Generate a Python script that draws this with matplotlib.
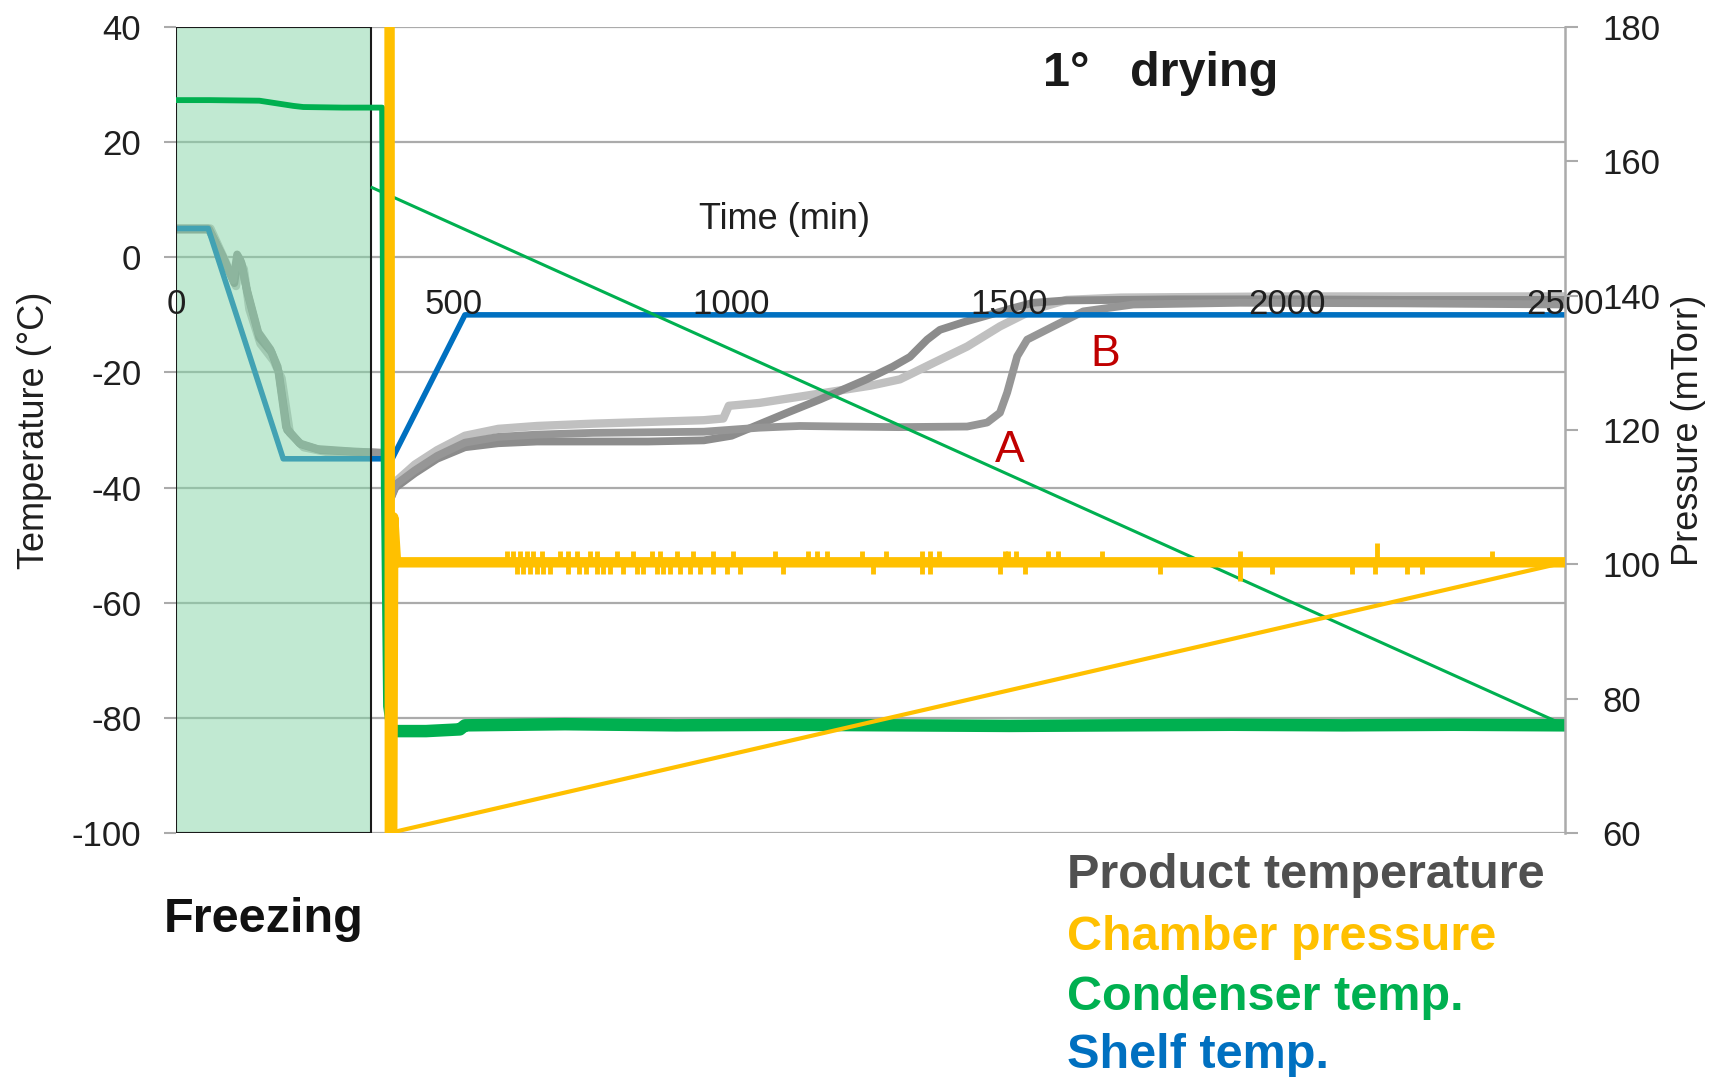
import matplotlib
matplotlib.use("Agg")
import matplotlib.pyplot as plt
from matplotlib.patches import Rectangle

plt.rcParams['font.family'] = ['Liberation Sans', 'DejaVu Sans']
plt.rcParams['axes.unicode_minus'] = False

# ---------------- data ----------------
x_ticks = [0, 500, 1000, 1500, 2000, 2500]
temp_ticks = [-100, -80, -60, -40, -20, 0, 20, 40]
press_ticks = [60, 80, 100, 120, 140, 160, 180]

freeze_end = 351

shelf_x = [0, 58, 193, 389, 520, 2500]
shelf_t = [5, 5, -35, -35, -10, -10]

cond_x = [0, 60, 150, 211, 229, 300, 371, 374, 378, 383, 395, 450, 511, 520, 700, 900,
          1100, 1300, 1500, 1700, 1900, 2100, 2300, 2500]
cond_t = [27.3, 27.3, 27.2, 26.3, 26.1, 26.0, 26.0, -40, -78, -81.5, -82.3, -82.3, -82.0,
          -81.3, -81.1, -81.3, -81.2, -81.3, -81.4, -81.3, -81.2, -81.3, -81.2, -81.3]
cond_diag_x = [353, 2500]
cond_diag_t = [12.1, -81.3]

p1_x = [0, 60, 85, 105, 112, 118, 128, 150, 172, 185, 200, 225, 260, 320, 380, 386, 395,
        430, 470, 520, 580, 650, 750, 850, 950, 1000, 1050, 1100, 1159, 1243, 1290, 1321,
        1352, 1375, 1420, 1453, 1500, 1543, 1600, 1800, 2000, 2200, 2500]
p1_t = [4.8, 4.8, 0, -4.5, 0, -1, -6, -14, -16.5, -20, -30, -32.5, -33.5, -33.8, -34, -42,
        -40, -37.5, -35, -33, -32.3, -32, -32, -32, -31.8, -31, -29, -27, -24.7, -21.2, -19,
        -17.3, -14.3, -12.6, -11.2, -10.3, -9, -7.9, -7.5, -7.3, -7.3, -7.4, -7.4]

p2_x = [0, 62, 88, 108, 114, 122, 132, 152, 176, 190, 205, 230, 270, 330, 380, 386, 395,
        430, 470, 520, 580, 650, 750, 850, 950, 985, 995, 1050, 1150, 1250, 1303, 1360,
        1424, 1483, 1543, 1603, 1700, 2000, 2500]
p2_t = [5, 5, -0.5, -5, -0.8, -2, -9, -15, -18, -21, -30.5, -33, -33.8, -34, -34.3, -41.5,
        -39, -36, -33.5, -31, -29.8, -29.3, -28.9, -28.6, -28.3, -28, -25.8, -25.3, -23.8,
        -22.3, -21.2, -18.5, -15.5, -12, -9.1, -7.4, -7, -6.8, -6.8]

p3_x = [0, 58, 82, 103, 110, 116, 126, 148, 170, 183, 198, 222, 255, 315, 380, 386, 395,
        430, 470, 520, 580, 650, 750, 850, 950, 1050, 1123, 1200, 1300, 1424, 1460, 1483,
        1496, 1514, 1532, 1579, 1633, 1723, 1915, 2200, 2500]
p3_t = [5, 5, 0.5, -4, 0.5, -0.5, -5, -13, -16, -19, -29.5, -32.3, -33.3, -33.7, -34, -42,
        -39.5, -37, -34.5, -32.2, -31.2, -30.8, -30.5, -30.4, -30.3, -29.6, -29.3, -29.4,
        -29.5, -29.4, -28.7, -27, -23.5, -17.2, -14.3, -12, -9.4, -8.2, -7.9, -8, -8.2]

press_x = [0, 382, 385, 388, 391, 396, 2500]
press_p = [760, 760, 30, 30, 107, 100.3, 100.3]
press_diag_x = [384, 2500]
press_diag_p = [60, 100.3]
press_base = 100.3

spike_up_x = [595, 607, 619, 631, 643, 658, 691, 706, 721, 745, 757, 793, 823, 856, 871,
              901, 931, 967, 1003, 1078, 1137, 1153, 1171, 1235, 1278, 1343, 1357, 1373,
              1492, 1498, 1511, 1569, 1587, 1667, 1915, 2162, 2369]
spike_up_p = [102.0] * 35 + [103.2, 102.0]
spike_dn_x = [613, 625, 637, 649, 661, 673, 706, 726, 738, 757, 769, 781, 805, 829, 841,
              865, 877, 889, 907, 925, 943, 967, 991, 1015, 1092, 1255, 1343, 1357, 1483,
              1528, 1771, 1915, 1973, 2117, 2158, 2215, 2243]
spike_dn_p = [98.5] * 31 + [97.5] + [98.5] * 5

# ---------------- figure ----------------
W, H = 1710, 1077
fig = plt.figure(figsize=(W / 100, H / 100), dpi=100)
L, R, T, B = 176, 1565, 27, 833
ax = fig.add_axes([L / W, 1 - B / H, (R - L) / W, (B - T) / H])
ax.set_xlim(0, 2500)
ax.set_ylim(-100, 40)

grid_c = '#ababab'
tick_c = '#1f1f1f'
ax.set_yticks(temp_ticks)
ax.set_xticks(x_ticks)
ax.yaxis.grid(True, color=grid_c, lw=1.6, zorder=0)
ax.set_axisbelow(True)
ax.xaxis.set_zorder(7)
for s in ax.spines.values():
    s.set_visible(False)
ax.spines['bottom'].set_position(('data', 0))
ax.tick_params(axis='y', direction='out', length=9, width=1.5, color=grid_c,
               pad=16, labelsize=25, labelcolor=tick_c)
ax.tick_params(axis='x', length=0, pad=22, labelsize=25, labelcolor=tick_c)

gray_cols = ['#8c8c8c', '#c0c0c0', '#969696']
ax.plot(p2_x, p2_t, color=gray_cols[1], lw=6.0, zorder=2)
ax.plot(p1_x, p1_t, color=gray_cols[0], lw=5.6, zorder=2)
ax.plot(p3_x, p3_t, color=gray_cols[2], lw=5.6, zorder=2)
ax.plot(shelf_x, shelf_t, color='#0070c0', lw=4, zorder=3)

ax.add_patch(Rectangle((0, -100), freeze_end, 140, facecolor=(133/255, 213/255, 167/255, 0.5),
                       edgecolor='#1a1a1a', lw=1.5, zorder=4))

green = '#00b050'
ax.plot(cond_x, cond_t, color=green, lw=4.2, zorder=5)
ax.plot(cond_x[10:], cond_t[10:], color=green, lw=9, zorder=5)
ax.plot(cond_diag_x, cond_diag_t, color=green, lw=2.2, zorder=5)

ax.text(1096, 6.5, 'Time (min)', ha='center', va='center', fontsize=26, color=tick_c, zorder=6)
ax.text(1773, 32.0, '1°   drying', ha='center', va='center', fontsize=35,
        fontweight='bold', color='#1a1a1a', zorder=6)
ax.text(1501, -33.5, 'A', ha='center', va='center', fontsize=32, color='#c00000', zorder=6)
ax.text(1672, -16.8, 'B', ha='center', va='center', fontsize=32, color='#c00000', zorder=6)

ax2 = ax.twinx()
ax2.set_ylim(60, 180)
ax2.set_yticks(press_ticks)
for k, s in ax2.spines.items():
    s.set_visible(k == 'right')
ax2.spines['right'].set_color(grid_c)
ax2.spines['right'].set_linewidth(1.8)
ax2.tick_params(axis='y', direction='out', length=9, width=1.5, color=grid_c,
                pad=18, labelsize=25, labelcolor=tick_c)

yellow = '#ffc000'
ax2.plot(press_diag_x, press_diag_p, color=yellow, lw=3, zorder=3)
ax2.plot(press_x, press_p, color=yellow, lw=7.5, zorder=4)
ax2.vlines(spike_up_x, press_base, spike_up_p, color=yellow, lw=3.5, zorder=4)
ax2.vlines(spike_dn_x, press_base, spike_dn_p, color=yellow, lw=3.5, zorder=4)

fig.text(35 / W, 1 - 430 / H, 'Temperature (°C)', rotation=90, ha='center', va='center',
         fontsize=26, color=tick_c)
fig.text(1688 / W, 1 - 430 / H, 'Pressure (mTorr)', rotation=90, ha='center', va='center',
         fontsize=26, color=tick_c)

fig.text(164 / W, 1 - 919 / H, 'Freezing', ha='left', va='center', fontsize=35,
         fontweight='bold', color='#111111')
legend_items = [('Product temperature', '#505050'), ('Chamber pressure', yellow),
                ('Condenser temp.', green), ('Shelf temp.', '#0070c0')]
legend_y = [876, 938, 998, 1055]
for (txt, col), yy in zip(legend_items, legend_y):
    fig.text(1067 / W, 1 - yy / H, txt, ha='left', va='center', fontsize=35,
             fontweight='bold', color=col)

fig.savefig('out.png', dpi=100)
